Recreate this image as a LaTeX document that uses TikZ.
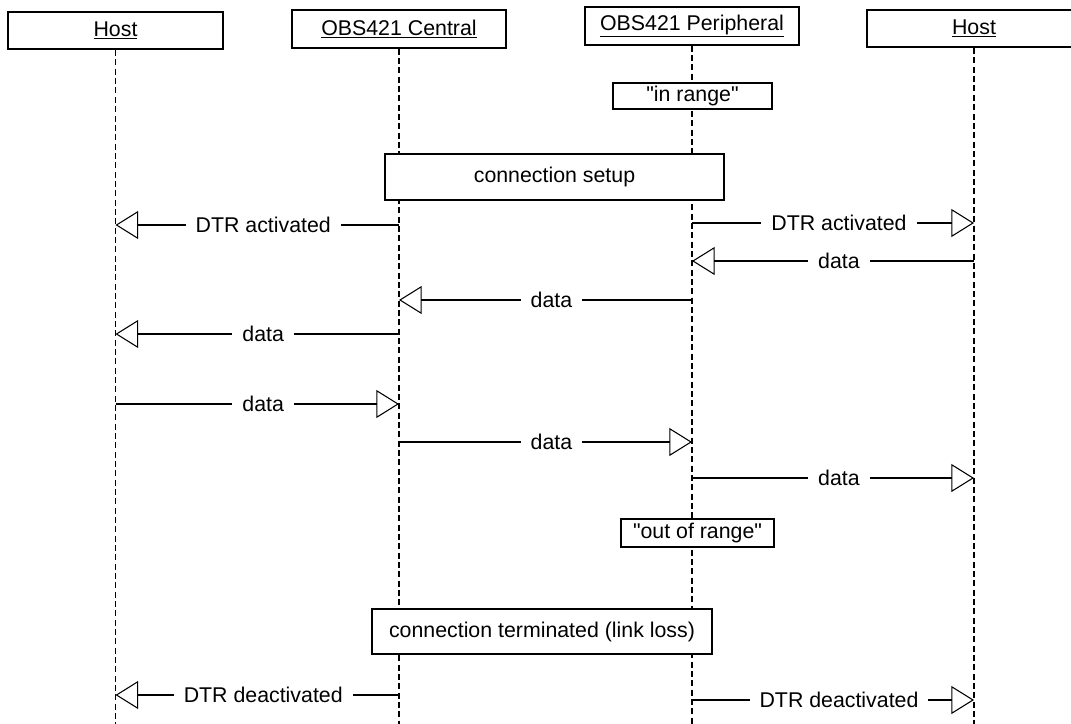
\documentclass[tikz,border=0pt]{standalone}
\usepackage{fontspec}
\setmainfont{Liberation Sans}
\usepackage{tikz}
\usetikzlibrary{arrows.meta}

\tikzset{
  head/.style={draw, line width=1.5pt, fill=white, minimum width=161pt, minimum height=28pt, inner sep=0pt, font=\fontsize{16}{19}\selectfont},
  note/.style={draw, line width=1.3pt, fill=white, inner sep=0pt, font=\fontsize{16}{19}\selectfont},
  life/.style={line width=0.8pt, dash pattern=on 4.5pt off 2.5pt},
  msg/.style={line width=0.8pt, -{Triangle[open,length=17pt,width=21pt]}},
  lbl/.style={fill=white, inner xsep=7.5pt, inner ysep=1pt, xshift=4.5pt, font=\fontsize{16}{19}\selectfont}
}

\begin{document}
\begin{tikzpicture}[x=0.75pt,y=-0.75pt]
\useasboundingbox (0,0) rectangle (1071,724);

\node[head] (hostl) at (115.5,30.5) {\underline{Host}};
\node[head] (cen) at (399,29) {\underline{OBS421 Central}};
\node[head] (per) at (692,26) {\underline{OBS421 Peripheral}};
\node[head] (hostr) at (974,28.5) {\underline{Host}};

\foreach \n in {hostl,cen,per,hostr} {
  \coordinate (\n-end) at (\n.south |- 0,724);
  \draw[life] (\n.south) -- (\n-end);
}

\node[note, minimum width=119pt, minimum height=19.5pt] (inrange) at (692.5,96) {\textquotedbl in range\textquotedbl};
\node[note, minimum width=254pt, minimum height=34.5pt] (setup) at (554.5,177) {connection setup};
\node[note, minimum width=115pt, minimum height=21pt] (outrange) at (697.5,533) {\textquotedbl out of range\textquotedbl};
\node[note, minimum width=255pt, minimum height=34pt] (term) at (542,631.5) {connection terminated (link loss)};

\foreach \y/\a/\b/\txt in {225/cen/hostl/DTR activated, 223/per/hostr/DTR activated,
    261/hostr/per/data, 300/per/cen/data, 334/cen/hostl/data, 404/hostl/cen/data,
    442/cen/per/data, 478/per/hostr/data,
    695/cen/hostl/DTR deactivated, 700/per/hostr/DTR deactivated}
  \draw[msg] (\a |- 0,\y) -- node[lbl] {\txt} (\b |- 0,\y);
\end{tikzpicture}
\end{document}
